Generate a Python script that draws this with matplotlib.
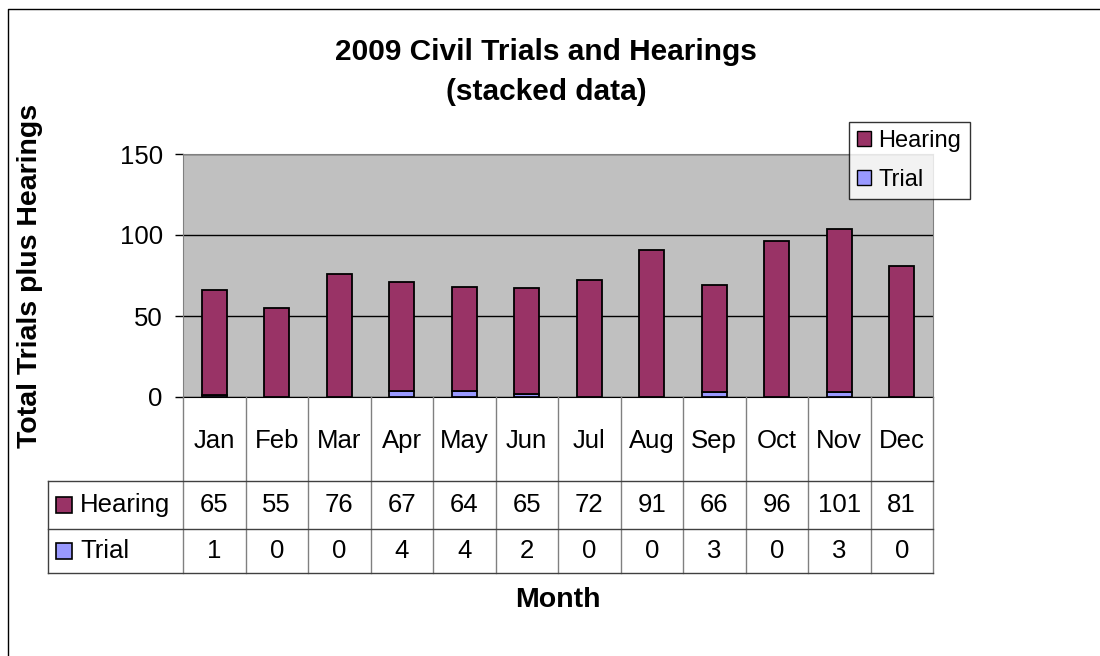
import matplotlib
matplotlib.use("Agg")
import matplotlib.pyplot as plt
from matplotlib import transforms
from matplotlib.lines import Line2D
from matplotlib.patches import Rectangle, Patch
import numpy as np

months = ["Jan", "Feb", "Mar", "Apr", "May", "Jun",
          "Jul", "Aug", "Sep", "Oct", "Nov", "Dec"]
hearing = [65, 55, 76, 67, 64, 65, 72, 91, 66, 96, 101, 81]
trial = [1, 0, 0, 4, 4, 2, 0, 0, 3, 0, 3, 0]
series_names = ["Hearing", "Trial"]
yticks = [0, 50, 100, 150]

HEAR_C = "#993366"
TRIAL_C = "#9999FF"

plt.rcParams["font.family"] = ["Liberation Sans", "DejaVu Sans"]

W, H = 1100, 656
fig = plt.figure(figsize=(11, 6.56), dpi=100)
# pixel coords (origin top-left) -> figure
px = transforms.Affine2D().scale(1 / W, -1 / H).translate(0, 1) + fig.transFigure

# plot area in pixels
L, R, T, B = 183, 933, 154, 397
ax = fig.add_axes([L / W, 1 - B / H, (R - L) / W, (B - T) / H])
ax.set_facecolor("#C0C0C0")

x = np.arange(len(months))
ax.bar(x, trial, 0.4, color=TRIAL_C, edgecolor="black", linewidth=1.3, zorder=3)
ax.bar(x, hearing, 0.4, bottom=trial, color=HEAR_C, edgecolor="black",
       linewidth=1.3, zorder=3)
ax.set_xlim(-0.5, len(months) - 0.5)
ax.set_ylim(0, 150)
ax.set_yticks(yticks)
ax.set_xticks([])
ax.tick_params(axis="y", direction="out", length=6, width=1, labelsize=18.5, pad=8.5)
ax.yaxis.grid(True, color="black", linewidth=1)
ax.set_axisbelow(True)
for s in ["top", "right", "left"]:
    ax.spines[s].set_color("#808080")
ax.spines["bottom"].set_color("black")

# data table under the plot
rows_y = [B, 481, 529, 573]
label_left = 48
tr = transforms.blended_transform_factory(ax.transData, px)

for xi in np.arange(len(months) + 1) - 0.5:
    fig.add_artist(Line2D([xi, xi], [rows_y[0], rows_y[-1]], transform=tr,
                          color="#808080", linewidth=1))
for yy in rows_y[1:]:
    fig.add_artist(Line2D([label_left, R], [yy, yy], transform=px,
                          color="#404040", linewidth=1))
fig.add_artist(Line2D([label_left, label_left], [rows_y[1], rows_y[-1]],
                      transform=px, color="#404040", linewidth=1))

for i, m in enumerate(months):
    fig.text(i, (rows_y[0] + rows_y[1]) / 2 + 2, m, transform=tr,
             ha="center", va="center", fontsize=18.5)
    fig.text(i, (rows_y[1] + rows_y[2]) / 2, str(hearing[i]), transform=tr,
             ha="center", va="center", fontsize=18.5)
    fig.text(i, (rows_y[2] + rows_y[3]) / 2, str(trial[i]), transform=tr,
             ha="center", va="center", fontsize=18.5)

for name, col, (y0, y1) in zip(series_names, [HEAR_C, TRIAL_C],
                               [(rows_y[1], rows_y[2]), (rows_y[2], rows_y[3])]):
    yc = (y0 + y1) / 2
    fig.add_artist(Rectangle((56, yc - 8), 16, 16, transform=px,
                             facecolor=col, edgecolor="black", linewidth=1.2))
    fig.text(80, yc, name, transform=px, ha="left", va="center", fontsize=18.5)

# legend
handles = [Patch(facecolor=HEAR_C, edgecolor="black"),
           Patch(facecolor=TRIAL_C, edgecolor="black")]
leg = fig.legend(handles, series_names, loc="upper left",
                 bbox_to_anchor=(849 / W, 1 - 122 / H), fontsize=17,
                 frameon=True, fancybox=False, edgecolor="black",
                 handlelength=0.6, handleheight=0.6, handletextpad=0.3,
                 borderpad=0.35, labelspacing=0.7, borderaxespad=0)
leg.get_frame().set_linewidth(1)

# titles and axis labels
fig.text(546 / W, 1 - 52 / H, "2009 Civil Trials and Hearings",
         ha="center", va="center", fontsize=21.5, fontweight="bold")
fig.text(546 / W, 1 - 92 / H, "(stacked data)",
         ha="center", va="center", fontsize=21.5, fontweight="bold")
fig.text(30 / W, 1 - 276 / H, "Total Trials plus Hearings", rotation=90,
         ha="center", va="center", fontsize=20.5, fontweight="bold")
fig.text(558 / W, 1 - 600 / H, "Month",
         ha="center", va="center", fontsize=20.5, fontweight="bold")

# outer chart border
fig.add_artist(Line2D([8, 8, W], [H, 9, 9], transform=px, color="black", linewidth=1))

fig.savefig("out.png", dpi=100)
